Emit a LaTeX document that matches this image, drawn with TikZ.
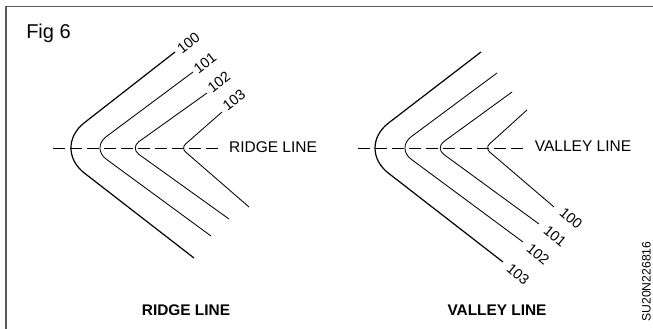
\documentclass[tikz,border=0pt]{standalone}
\usepackage{fontspec}
\setmainfont{Liberation Sans}

\tikzset{
    heavy/.style={line width=1.2pt},
    light/.style={line width=0.85pt},
    centre/.style={line width=0.7pt, dash pattern=on 11.7pt off 5.3pt},
    num/.style={font=\fontsize{14.5}{16}\selectfont, inner sep=0pt},
    note/.style={font=\fontsize{15.5}{18}\selectfont, inner sep=0pt},
    caption/.style={font=\fontsize{15.4}{18}\selectfont\bfseries, inner sep=0pt}
}

\begin{document}
\begin{tikzpicture}[x=1pt, y=-1pt]
    \useasboundingbox (0,0) rectangle (653,329);

    % Frame
    \draw[line width=1.1pt, black!65] (6,329) -- (6,6.5) -- (653,6.5);

    \node[font=\fontsize{20}{24}\selectfont, inner sep=0pt] (fig) at (48.5,33) {Fig 6};

    % Ridge side
    \coordinate (Ra1) at (175,52);
    \coordinate (Ra2) at (193,72);
    \coordinate (Ra3) at (207,93);
    \coordinate (Ra4) at (222,112);
    \coordinate (Rc1) at (194,258);
    \coordinate (Rc2) at (211,236);
    \coordinate (Rc3) at (229,219);
    \coordinate (Rc4) at (249,207);

    \draw[centre] (53.3,148) -- (218,148);
    \draw[heavy, rounded corners=41pt] (Ra1) -- (52,148) -- (Rc1);
    \draw[light, rounded corners=19pt] (Ra2) -- (91,148) -- (Rc2);
    \draw[light, rounded corners=11pt] (Ra3) -- (130,148) -- (Rc3);
    \draw[light, rounded corners=6pt] (Ra4) -- (181,148) -- (Rc4);

    \node[num, rotate=38] (r100) at (188.5,43.5) {100};
    \node[num, rotate=38] (r101) at (205,63) {101};
    \node[num, rotate=38] (r102) at (219,82) {102};
    \node[num, rotate=38] (r103) at (234,100) {103};

    \node[note] (ridge) at (273,147) {RIDGE LINE};
    \node[caption] (ridgecap) at (186,310) {RIDGE LINE};

    % Valley side
    \coordinate (Va1) at (481,52);
    \coordinate (Va2) at (497,73);
    \coordinate (Va3) at (512,92);
    \coordinate (Va4) at (527,110);
    \coordinate (Vc1) at (503,262);
    \coordinate (Vc2) at (523,242);
    \coordinate (Vc3) at (539,224);
    \coordinate (Vc4) at (554,207);

    \draw[centre] (358,148) -- (523,148);
    \draw[heavy, rounded corners=41pt] (Va1) -- (356,148) -- (Vc1);
    \draw[light, rounded corners=19pt] (Va2) -- (396,148) -- (Vc2);
    \draw[light, rounded corners=11pt] (Va3) -- (435,148) -- (Vc3);
    \draw[light, rounded corners=6pt] (Va4) -- (485,148) -- (Vc4);

    \node[num, rotate=-40] (v100) at (571,218) {100};
    \node[num, rotate=-40] (v101) at (555,236) {101};
    \node[num, rotate=-40] (v102) at (538,254) {102};
    \node[num, rotate=-40] (v103) at (518,274) {103};

    \node[note] (valley) at (583,146) {VALLEY LINE};
    \node[caption] (valleycap) at (497,310) {VALLEY LINE};

    \node[font=\fontsize{12.2}{14}\selectfont, inner sep=0pt, rotate=90] (ref) at (646.5,281.5) {SU20N226816};
\end{tikzpicture}
\end{document}
